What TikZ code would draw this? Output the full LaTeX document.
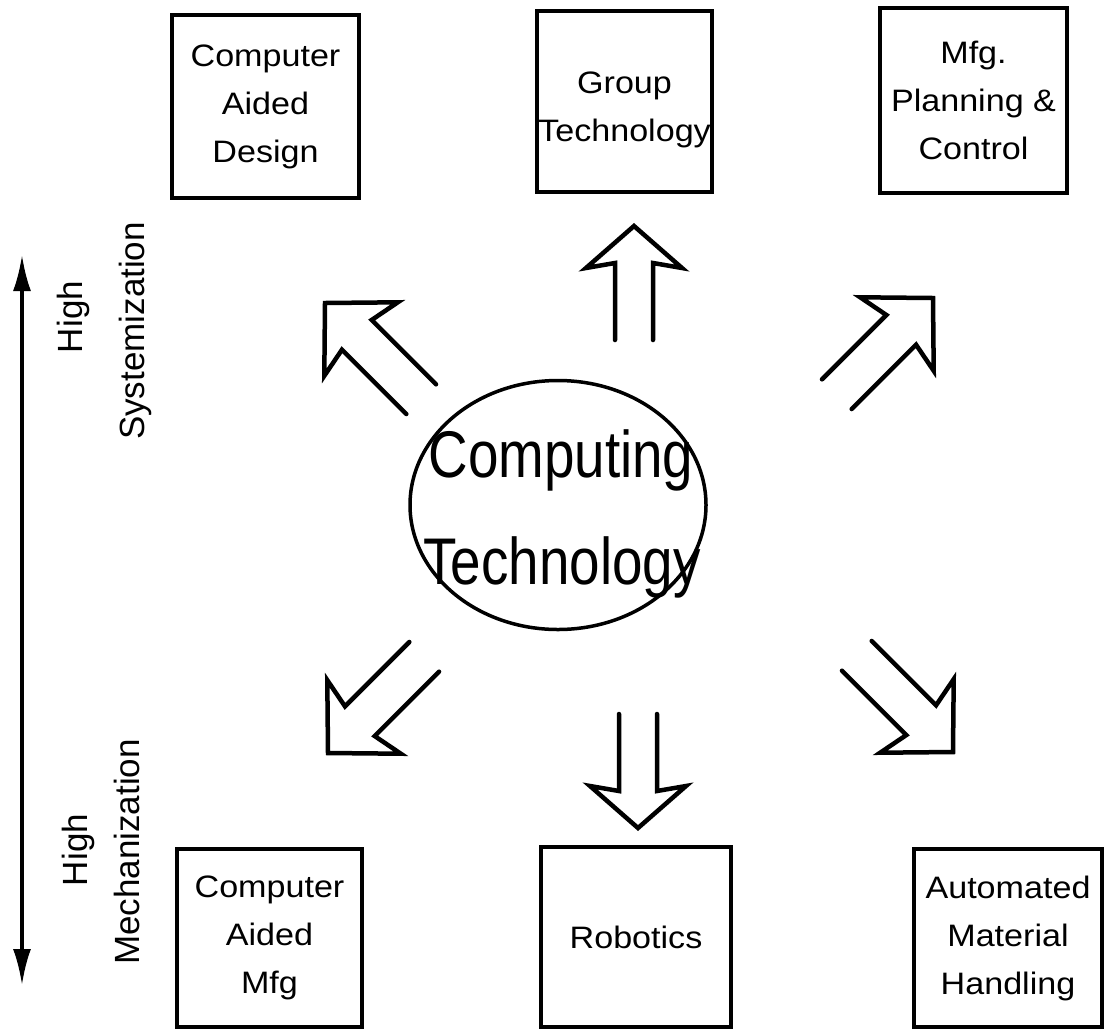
\documentclass[tikz,border=0pt]{standalone}
\usepackage{fontspec}
\setmainfont{Liberation Sans}
\newfontfamily\boxfont[FakeStretch=1.1]{Liberation Sans}
\newfontfamily\hubfont[FakeStretch=0.83]{Liberation Sans}
\usetikzlibrary{shapes.geometric,arrows.meta}

% open (hollow) block arrow: apex at #1, pointing in direction #2 (degrees)
\newcommand\diagarrow[2]{%
  \begin{scope}[shift={#1},rotate=#2]
    \draw[blockline] (-136,21) -- (-45,21) -- (-51,52) -- (0,0)
                     -- (-51,-52) -- (-45,-21) -- (-136,-21);
  \end{scope}}
\newcommand\axisarrow[2]{%
  \begin{scope}[shift={#1},rotate=#2]
    \draw[blockline] (-114,19) -- (-37,19) -- (-42,48) -- (0,0)
                     -- (-42,-48) -- (-37,-19) -- (-114,-19);
  \end{scope}}

\begin{document}
\begin{tikzpicture}[x=1pt,y=1pt,
  boxtext/.style={inner sep=0pt, align=center,
    font=\boxfont\fontsize{31}{48}\selectfont},
  techbox/.style={draw, line width=4.5pt, boxtext},
  blockline/.style={line width=4.5pt, line join=miter, line cap=round},
  hubtext/.style={anchor=base, inner sep=0pt, font=\hubfont\fontsize{66}{84}\selectfont},
  sidelabel/.style={rotate=90, inner sep=0pt, font=\fontsize{35}{42}\selectfont}]
\useasboundingbox (0,0) rectangle (1110,-1029);

% application areas, top row
\node[techbox, minimum width=187pt, minimum height=183pt] (cad) at (265.5,-106.5)
  {Computer\\Aided\\Design};
\node[techbox, minimum width=175pt, minimum height=181pt] (gt) at (624.5,-101.5) {};
\node[boxtext] (gtlabel) at ([yshift=-8pt]gt.center) {Group\\Technology};
\node[techbox, minimum width=187pt, minimum height=185pt] (mpc) at (973.5,-100.5)
  {Mfg.\\Planning \&\\Control};

% application areas, bottom row
\node[techbox, minimum width=185pt, minimum height=178pt] (cam) at (269.5,-938)
  {Computer\\Aided\\Mfg};
\node[techbox, minimum width=190pt, minimum height=180pt] (rob) at (636,-937)
  {Robotics};
\node[techbox, minimum width=188pt, minimum height=178pt] (amh) at (1008,-938)
  {Automated\\Material\\Handling};

% the hub
\node[draw, ellipse, line width=3.5pt, minimum width=296pt, minimum height=249pt,
  inner sep=0pt] (hub) at (558,-505) {};
\node[hubtext] (hubA) at (561,-477) {Computing};
\node[hubtext] (hubB) at (562,-584) {Technology};

% hollow arrows radiating from the hub
\axisarrow{(634,-226)}{90}
\axisarrow{(638,-828)}{-90}
\diagarrow{(325,-303)}{135}
\diagarrow{(933,-298)}{45}
\diagarrow{(328,-753)}{225}
\diagarrow{(953,-752)}{-45}

% systemization / mechanization axis
\coordinate (axtop) at (22,-255);
\coordinate (axbot) at (22,-985);
\draw[line width=3.5pt, {Latex[length=36pt,width=18pt]}-{Latex[length=36pt,width=18pt]}]
  (axtop) -- (axbot);

\node[sidelabel] (hiS) at (73,-317) {High};
\node[sidelabel] (sys) at (135,-331) {Systemization};
\node[sidelabel] (hiM) at (78,-850) {High};
\node[sidelabel] (mech) at (127,-852) {Mechanization};
\end{tikzpicture}
\end{document}
